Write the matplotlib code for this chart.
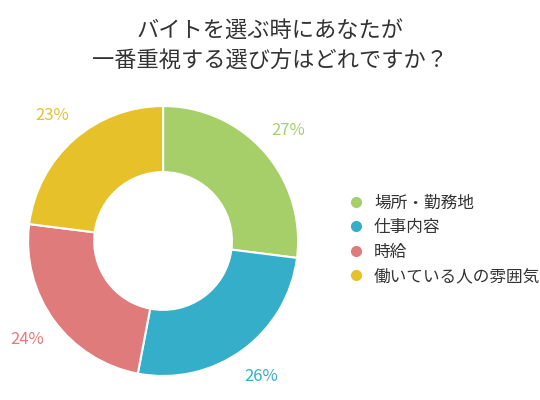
import matplotlib.pyplot as plt
from matplotlib.lines import Line2D

plt.rcParams['font.family'] = ['Noto Sans CJK JP', 'DejaVu Sans']

labels = ['場所・勤務地', '仕事内容', '時給', '働いている人の雰囲気']
values = [27, 26, 24, 23]
colors = ['#a6cf6a', '#35aeca', '#e07b7b', '#e6c12a']

fig = plt.figure(figsize=(5.4, 4), dpi=100)
ax = fig.add_axes([0.052, 0.06, 0.5, 0.675])
wedges, texts = ax.pie(values, colors=colors, startangle=90, counterclock=False,
                       radius=1, wedgeprops=dict(width=0.49, edgecolor='white', linewidth=1.5),
                       labels=[f'{v}%' for v in values], labeldistance=1.24)
for t, c in zip(texts, colors):
    t.set_color(c)
    t.set_fontsize(12)
    t.set_horizontalalignment('center')
    t.set_clip_on(False)
ax.set_xlim(-1, 1)
ax.set_ylim(-1, 1)
ax.set_aspect('equal')

fig.text(0.5, 0.95, 'バイトを選ぶ時にあなたが\n一番重視する選び方はどれですか？',
         ha='center', va='top', fontsize=16, color='#333333', linespacing=1.4)

handles = [Line2D([], [], marker='o', linestyle='', color=c, markersize=7) for c in colors]
fig.legend(handles, labels, loc='center left', bbox_to_anchor=(0.6, 0.4),
           frameon=False, fontsize=12, handletextpad=0.1, labelspacing=0.45,
           labelcolor='#333333')

fig.savefig('out.png')
